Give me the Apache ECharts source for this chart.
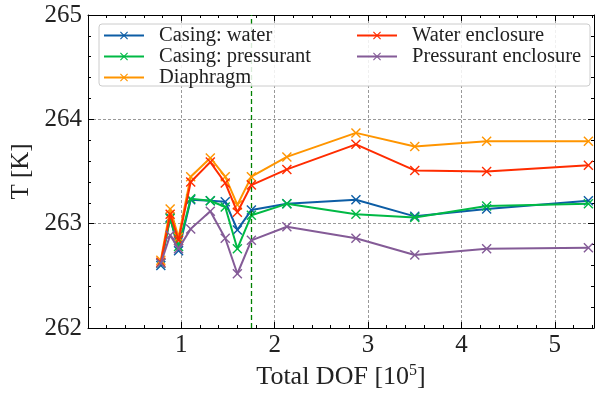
<!DOCTYPE html>
<html>
<head>
<meta charset="utf-8">
<script src="https://cdn.jsdelivr.net/npm/echarts@6/dist/echarts.min.js"></script>
<style>
html,body{margin:0;padding:0;background:#fff;}
#chart{width:597px;height:396px;}
</style>
</head>
<body>
<div id="chart"></div>
<script>
// ---- data ----
var dof = [0.78, 0.88, 0.97, 1.10, 1.31, 1.47, 1.60, 1.75, 2.13, 2.87, 3.50, 4.27, 5.36];
var casingWater = [262.60, 263.06, 262.74, 263.23, 263.22, 263.21, 262.94, 263.13, 263.19, 263.23, 263.07, 263.14, 263.22];
var casingPressurant = [262.62, 263.05, 262.78, 263.24, 263.22, 263.16, 262.76, 263.08, 263.19, 263.09, 263.06, 263.17, 263.19];
var diaphragm = [262.65, 263.14, 262.87, 263.45, 263.63, 263.45, 263.18, 263.45, 263.64, 263.87, 263.74, 263.79, 263.79];
var waterEnclosure = [262.63, 263.09, 262.84, 263.40, 263.59, 263.39, 263.11, 263.37, 263.52, 263.76, 263.51, 263.50, 263.56];
var pressurantEnclosure = [262.62, 262.89, 262.76, 262.95, 263.12, 262.86, 262.52, 262.84, 262.97, 262.86, 262.70, 262.76, 262.77];
var seriesNames = ['Casing: water', 'Casing: pressurant', 'Diaphragm', 'Water enclosure', 'Pressurant enclosure'];
var seriesColors = ['#0C5DA5', '#00B945', '#FF9500', '#FF2C00', '#845B97'];
var refLineX = 1.75;
var xTicks = [1, 2, 3, 4, 5];
var yTicks = [262, 263, 264, 265];

var FONT = 'Liberation Serif';
var XSYM = 'path://M0,1L1,0L5,4L9,0L10,1L6,5L10,9L9,10L5,6L1,10L0,9L4,5Z';

function pairs(ys) { return dof.map(function (x, i) { return [x, ys[i]]; }); }
var allData = [casingWater, casingPressurant, diaphragm, waterEnclosure, pressurantEnclosure];

var series = allData.map(function (d, i) {
  var s = {
    name: seriesNames[i],
    type: 'line',
    data: pairs(d),
    symbol: XSYM,
    symbolSize: 10,
    lineStyle: { width: 2, color: seriesColors[i] },
    itemStyle: { color: seriesColors[i] },
    z: 3 + i,
    animation: false
  };
  if (i === 0) {
    s.markLine = {
      silent: true,
      symbol: 'none',
      label: { show: false },
      lineStyle: { color: '#008000', type: [5, 3], width: 1.3 },
      data: [{ xAxis: refLineX }]
    };
  }
  return s;
});

var chart = echarts.init(document.getElementById('chart'));
var axisCommon = {
  axisLine: { show: true, onZero: false, lineStyle: { color: '#000', width: 1 } },
  axisTick: { show: true, inside: true, length: 6, lineStyle: { color: '#000' } },
  minorTick: { show: true, splitNumber: 5, length: 3, lineStyle: { color: '#000' } }
};
chart.setOption({
  animation: false,
  backgroundColor: '#fff',
  textStyle: { fontFamily: FONT },
  grid: { left: 88, right: 3, top: 15, bottom: 68, containLabel: false },
  xAxis: [
    Object.assign({
      type: 'value', min: 0, max: 5.42, interval: 1, position: 'bottom',
      name: '{a|Total DOF [10}{s|5}{a|]}',
      nameLocation: 'middle', nameGap: 30,
      nameTextStyle: { rich: { a: { fontFamily: FONT, fontSize: 26, color: '#222' }, s: { fontFamily: FONT, fontSize: 16, color: '#222', verticalAlign: 'top', padding: [0, 0, 12, 0] } } },
      axisLabel: { fontFamily: FONT, fontSize: 25, color: '#222', margin: 5, showMinLabel: false, showMaxLabel: false,
        formatter: function (v) { return xTicks.indexOf(v) >= 0 ? String(v) : ''; } },
      splitLine: { show: true, lineStyle: { color: '#999', type: [3, 2], width: 1 } }
    }, axisCommon),
    Object.assign({
      type: 'value', min: 0, max: 5.42, interval: 1, position: 'top',
      axisLabel: { show: false }, splitLine: { show: false }
    }, axisCommon)
  ],
  yAxis: [
    Object.assign({
      type: 'value', min: 262, max: 265, interval: 1, position: 'left',
      name: 'T [K]', nameLocation: 'middle', nameGap: 53, nameRotate: 90,
      nameTextStyle: { fontFamily: FONT, fontSize: 25, color: '#222' },
      axisLabel: { fontFamily: FONT, fontSize: 25, color: '#222', margin: 6,
        formatter: function (v) { return yTicks.indexOf(v) >= 0 ? String(v) : ''; } },
      splitLine: { show: true, lineStyle: { color: '#999', type: [3, 2], width: 1 } }
    }, axisCommon),
    Object.assign({
      type: 'value', min: 262, max: 265, interval: 1, position: 'right',
      axisLabel: { show: false }, splitLine: { show: false }
    }, axisCommon)
  ],
  graphic: [{
    type: 'rect', z: 50,
    shape: { x: 99, y: 24, width: 491, height: 62, r: 3 },
    style: { fill: 'rgba(255,255,255,0.85)', stroke: '#cccccc', lineWidth: 1 }
  }],
  legend: [
    {
      data: seriesNames.slice(0, 3), orient: 'vertical', left: 103, top: 25, z: 60,
      itemWidth: 40, itemHeight: 10, itemGap: 0, padding: 0,
      textStyle: { fontFamily: FONT, fontSize: 20.5, color: '#222', lineHeight: 18, padding: [0, 0, 0, 10] }
    },
    {
      data: seriesNames.slice(3), orient: 'vertical', left: 356, top: 25, z: 60,
      itemWidth: 40, itemHeight: 10, itemGap: 0, padding: 0,
      textStyle: { fontFamily: FONT, fontSize: 20.5, color: '#222', lineHeight: 18, padding: [0, 0, 0, 10] }
    }
  ],
  series: series
});
</script>
</body>
</html>
